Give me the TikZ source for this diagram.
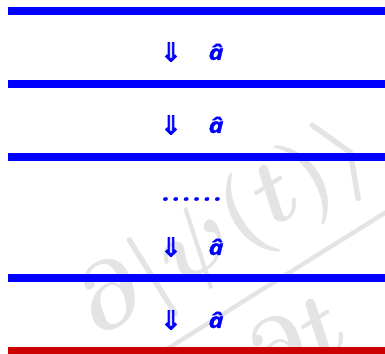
\documentclass[tikz,border=0pt]{standalone}
\usepackage{fontspec}
\setmainfont{Open Sans}
\newfontfamily\arrowfont[FakeBold=3]{DejaVu Sans}
\newfontfamily\hatfont[FakeBold=1.2, FakeStretch=1.2]{Open Sans}
\definecolor{barblue}{RGB}{0,0,255}
\definecolor{barred}{RGB}{204,0,0}
\usetikzlibrary{positioning}

\begin{document}
\begin{tikzpicture}[
  x=1pt, y=1pt,
  bar/.style={fill=barblue, draw=none, inner sep=0pt, minimum width=377pt, minimum height=8pt},
  lbl/.style={text=barblue, inner sep=0pt, font=\hatfont\bfseries\itshape\fontsize{21}{21}\selectfont},
  down/.style={text=barblue, inner sep=0pt, font=\arrowfont\fontsize{26}{26}\selectfont},
  wmark/.style={text=gray!21, inner sep=0pt, scale=3.7, transform shape, font=\boldmath\fontsize{24.88}{30}\selectfont},
]
  \useasboundingbox (0,0) rectangle (385,353);
  \begin{scope}
  \clip (0,0) rectangle (385,353);
  % faint formula behind the levels
  \node[wmark, rotate=32] (psi) at (255,72) {$\displaystyle{\partial|\psi(t)\rangle \above 1.2pt \partial t}$};

  \node[bar] (b1) at (196.5,342) {};
  \node[bar] (b2) at (196.5,269) {};
  \node[bar] (b3) at (196.5,196) {};
  \node[bar] (b4) at (196.5,75) {};
  \node[bar, fill=barred] (b5) at (196.5,2) {};
  \end{scope}

  \node[down] (d1) at (171,301) {⇓};
  \node[lbl]  (a1) at (216,301) {â};
  \node[down] (d2) at (171,228) {⇓};
  \node[lbl]  (a2) at (216,228) {â};
  \node[lbl, anchor=base] (dots) at (192.5,152.5) {.\kern3.2pt.\kern3.2pt.\kern3.2pt.\kern3.2pt.\kern3.2pt.};
  \node[down] (d3) at (171,106) {⇓};
  \node[lbl]  (a3) at (216,106) {â};
  \node[down] (d4) at (171,33) {⇓};
  \node[lbl]  (a4) at (216,33) {â};
\end{tikzpicture}
\end{document}
